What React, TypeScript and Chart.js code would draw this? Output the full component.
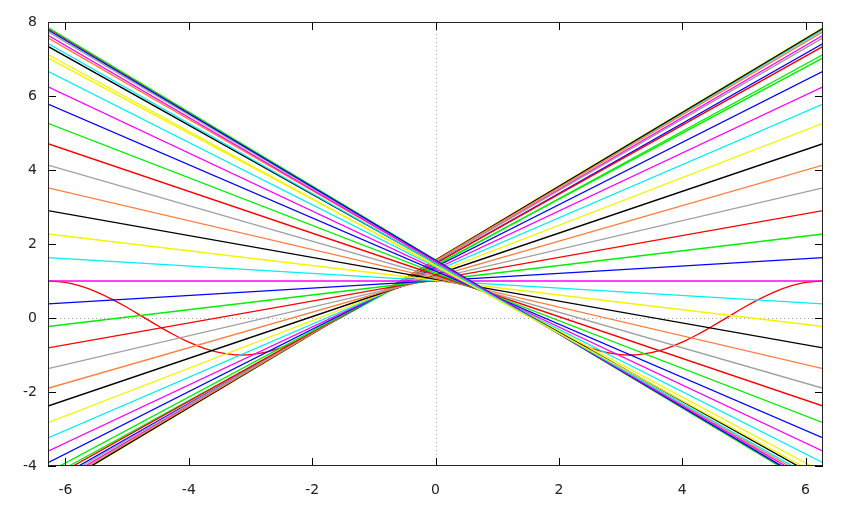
import React, { useEffect, useRef } from "react";
import { Chart, registerables } from "chart.js";

Chart.register(...registerables);

const TWO_PI = 6.283185307;

// Tangent points (x = a) of the tangent lines to cos(x)
const tangentPoints = [
  -2.0, -1.9, -1.8, -1.7, -1.6, -1.5, -1.4, -1.3, -1.2, -1.1, -1.0,
  -0.9, -0.8, -0.7, -0.6, -0.5, -0.4, -0.3, -0.2, -0.1, 0.0,
  0.1, 0.2, 0.3, 0.4, 0.5, 0.6, 0.7, 0.8, 0.9, 1.0,
  1.1, 1.2, 1.3, 1.4, 1.5, 1.6, 1.7, 1.8, 1.9, 2.0,
];

// y of each tangent line at the left edge (x = -2π)
const lineLeftY = [
  -4.31, -4.47, -4.59, -4.67, -4.71, -4.70, -4.64, -4.53, -4.38, -4.17, -3.91,
  -3.60, -3.24, -2.83, -2.38, -1.90, -1.37, -0.81, -0.23, 0.38, 1.0,
  1.63, 2.27, 2.90, 3.52, 4.13, 4.71, 5.26, 5.78, 6.25, 6.67,
  7.03, 7.34, 7.57, 7.74, 7.83, 7.85, 7.79, 7.64, 7.42, 7.12,
];

// y of each tangent line at the right edge (x = 2π)
const lineRightY = [
  7.12, 7.42, 7.64, 7.79, 7.85, 7.83, 7.74, 7.57, 7.34, 7.03, 6.67,
  6.25, 5.78, 5.26, 4.71, 4.13, 3.52, 2.90, 2.27, 1.63, 1.0,
  0.38, -0.23, -0.81, -1.37, -1.90, -2.38, -2.83, -3.24, -3.60, -3.91,
  -4.17, -4.38, -4.53, -4.64, -4.70, -4.71, -4.67, -4.59, -4.47, -4.31,
];

// cos(x) curve samples
const cosX = [
  -6.2832, -6.0, -5.75, -5.5, -5.25, -5.0, -4.75, -4.5, -4.25, -4.0, -3.75, -3.5, -3.25,
  -3.0, -2.75, -2.5, -2.25, -2.0, -1.75, -1.5, -1.25, -1.0, -0.75, -0.5, -0.25,
  0.0, 0.25, 0.5, 0.75, 1.0, 1.25, 1.5, 1.75, 2.0, 2.25, 2.5, 2.75, 3.0,
  3.25, 3.5, 3.75, 4.0, 4.25, 4.5, 4.75, 5.0, 5.25, 5.5, 5.75, 6.0, 6.2832,
];
const cosY = [
  1.0, 0.9602, 0.8612, 0.7087, 0.512, 0.2837, 0.0376, -0.2108, -0.4461, -0.6536, -0.8206, -0.9365, -0.9941,
  -0.99, -0.9243, -0.8011, -0.6282, -0.4161, -0.1782, 0.0707, 0.3153, 0.5403, 0.7317, 0.8776, 0.9689,
  1.0, 0.9689, 0.8776, 0.7317, 0.5403, 0.3153, 0.0707, -0.1782, -0.4161, -0.6282, -0.8011, -0.9243, -0.99,
  -0.9941, -0.9365, -0.8206, -0.6536, -0.4461, -0.2108, 0.0376, 0.2837, 0.512, 0.7087, 0.8612, 0.9602, 1.0,
];

const xTicks = [-6, -4, -2, 0, 2, 4, 6];
const yTicks = [-4, -2, 0, 2, 4, 6, 8];

const palette = [
  "#ff0000", "#00ee00", "#0000ff", "#ff00ff", "#00eeee",
  "#f4f400", "#000000", "#ff7f40", "#a0a0a0",
];

const framePlugin = {
  id: "frame",
  beforeDatasetsDraw(chart: any) {
    const { ctx, chartArea: a, scales } = chart;
    const x0 = Math.round(scales.x.getPixelForValue(0)) + 0.5;
    const y0 = Math.round(scales.y.getPixelForValue(0)) + 0.5;
    ctx.save();
    ctx.strokeStyle = "#a0a0a0";
    ctx.lineWidth = 1;
    ctx.setLineDash([1, 3]);
    ctx.beginPath();
    ctx.moveTo(x0, a.top);
    ctx.lineTo(x0, a.bottom);
    ctx.moveTo(a.left, y0);
    ctx.lineTo(a.right, y0);
    ctx.stroke();
    ctx.restore();
  },
  afterDatasetsDraw(chart: any) {
    const { ctx, chartArea: a, scales } = chart;
    const tl = 8;
    ctx.save();
    ctx.strokeStyle = "#000";
    ctx.lineWidth = 1;
    ctx.setLineDash([]);
    ctx.beginPath();
    xTicks.forEach((v) => {
      const px = Math.round(scales.x.getPixelForValue(v)) + 0.5;
      ctx.moveTo(px, a.bottom);
      ctx.lineTo(px, a.bottom - tl);
      ctx.moveTo(px, a.top);
      ctx.lineTo(px, a.top + tl);
    });
    yTicks.forEach((v) => {
      const py = Math.round(scales.y.getPixelForValue(v)) + 0.5;
      ctx.moveTo(a.left, py);
      ctx.lineTo(a.left + tl, py);
      ctx.moveTo(a.right, py);
      ctx.lineTo(a.right - tl, py);
    });
    ctx.stroke();
    ctx.strokeStyle = "#222";
    ctx.strokeRect(a.left + 0.5, a.top + 0.5, a.right - a.left - 1, a.bottom - a.top - 1);
    ctx.restore();
  },
};

export default function App() {
  const ref = useRef<HTMLCanvasElement | null>(null);

  useEffect(() => {
    if (!ref.current) return;
    const datasets: any[] = [];
    datasets.push({
      label: "cos(x)",
      data: cosX.map((x, i) => ({ x, y: cosY[i] })),
      borderColor: palette[0],
      borderWidth: 1.3,
      pointRadius: 0,
      tension: 0.4,
      order: 100,
      clip: 0,
    });
    tangentPoints.forEach((a, i) => {
      datasets.push({
        label: "tangent " + a,
        data: [
          { x: -TWO_PI, y: lineLeftY[i] },
          { x: TWO_PI, y: lineRightY[i] },
        ],
        borderColor: palette[(i + 1) % palette.length],
        borderWidth: 1.3,
        pointRadius: 0,
        tension: 0,
        order: 99 - i,
        clip: 0,
      });
    });

    const chart = new Chart(ref.current, {
      type: "line",
      data: { datasets },
      plugins: [framePlugin],
      options: {
        animation: false,
        responsive: false,
        maintainAspectRatio: false,
        events: [],
        layout: { padding: { top: 22, right: 31, left: 0, bottom: 0 } },
        plugins: { legend: { display: false }, tooltip: { enabled: false } },
        scales: {
          x: {
            type: "linear",
            min: -TWO_PI,
            max: TWO_PI,
            grid: { display: false, drawTicks: false },
            border: { display: false },
            afterBuildTicks: (s: any) => {
              s.ticks = xTicks.map((v) => ({ value: v }));
            },
            afterFit: (s: any) => {
              s.height = 46;
            },
            ticks: {
              autoSkip: false,
              maxRotation: 0,
              padding: 16,
              color: "#222",
              font: { family: "DejaVu Sans", size: 14 },
              callback: (v: any) => String(v),
            },
          },
          y: {
            type: "linear",
            min: -4,
            max: 8,
            grid: { display: false, drawTicks: false },
            border: { display: false },
            afterBuildTicks: (s: any) => {
              s.ticks = yTicks.map((v) => ({ value: v }));
            },
            afterFit: (s: any) => {
              s.width = 48;
            },
            ticks: {
              autoSkip: false,
              padding: 11,
              color: "#222",
              font: { family: "DejaVu Sans", size: 14 },
              callback: (v: any) => String(v),
            },
          },
        },
      },
    });
    return () => chart.destroy();
  }, []);

  return (
    <div style={{ position: "fixed", left: 0, top: 0, width: 854, height: 512, background: "#fff" }}>
      <canvas ref={ref} width={854} height={512} style={{ width: 854, height: 512 }} />
    </div>
  );
}
